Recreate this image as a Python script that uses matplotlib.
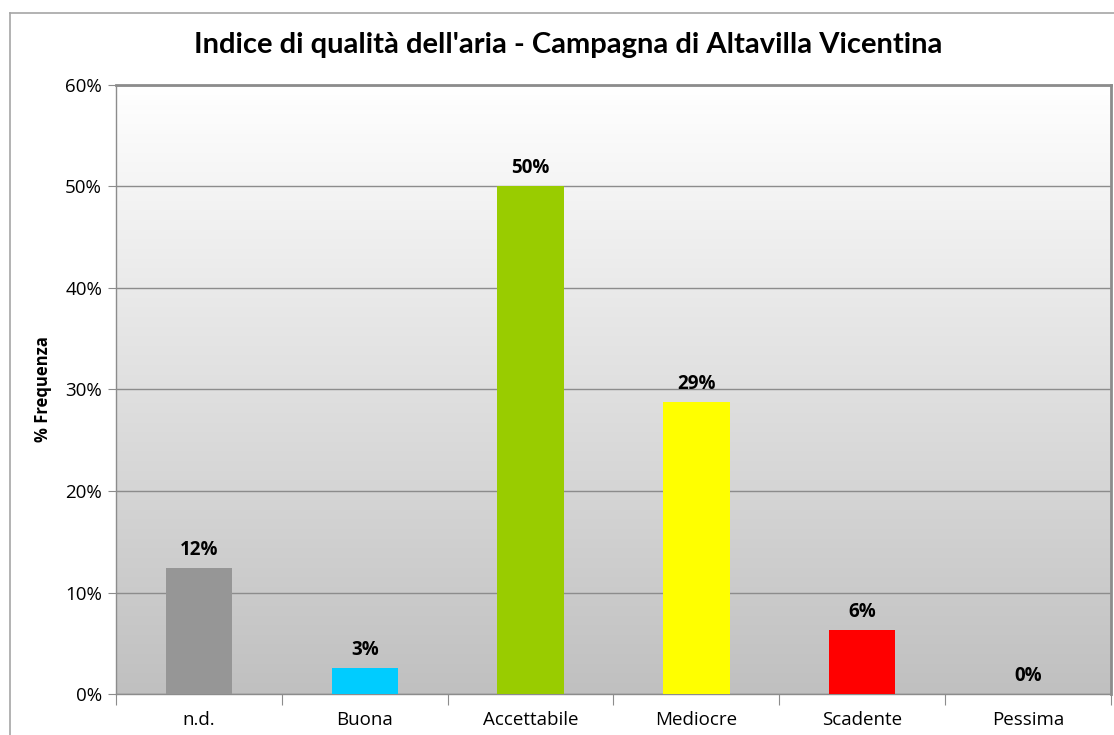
import numpy as np
import matplotlib
matplotlib.use("Agg")
import matplotlib.pyplot as plt
from matplotlib.lines import Line2D
from matplotlib.colors import LinearSegmentedColormap

categories = ["n.d.", "Buona", "Accettabile", "Mediocre", "Scadente", "Pessima"]
values = [12.4, 2.6, 50.0, 28.8, 6.3, 0.0]
colors = ["#969696", "#00ccff", "#99cc00", "#ffff00", "#ff0000", "#7f7f7f"]
yticks = [0, 10, 20, 30, 40, 50, 60]
title = "Indice di qualità dell'aria - Campagna di Altavilla Vicentina"
ylabel = "% Frequenza"

TFONT = ["Lato", "DejaVu Sans"]
FONT = ["Open Sans", "DejaVu Sans"]
plt.rcParams["font.family"] = FONT

W, H = 1114, 735
fig = plt.figure(figsize=(W / 100, H / 100), dpi=100)
fig.patch.set_facecolor("white")

# outer chart border (top and left edges visible)
fig.add_artist(Line2D([10 / W, 10 / W], [0, 1 - 13 / H], transform=fig.transFigure,
                      color="#a6a6a6", lw=1.2))
fig.add_artist(Line2D([10 / W, 1], [1 - 13 / H, 1 - 13 / H], transform=fig.transFigure,
                      color="#a6a6a6", lw=1.2))

left, right, top, bottom = 116, 1111, 85, 694
ax = fig.add_axes([left / W, 1 - bottom / H, (right - left) / W, (bottom - top) / H])

# gradient background
cmap = LinearSegmentedColormap.from_list("bg", ["#c0c0c0", "#ffffff"])
grad = np.linspace(0, 1, 256).reshape(-1, 1)
ax.imshow(grad, extent=[0, 1, 0, 1], transform=ax.transAxes, aspect="auto",
          cmap=cmap, origin="lower", zorder=0)

x = np.arange(len(categories))
ax.bar(x, values, width=0.4, color=colors, zorder=3)

ax.set_xlim(-0.5, len(categories) - 0.5)
ax.set_ylim(0, 60)

ax.set_yticks(yticks)
ax.set_yticklabels([f"{t}%" for t in yticks], fontsize=13.5, color="#000000")
ax.yaxis.grid(True, color="#8c8c8c", lw=1.0, zorder=1)
ax.set_axisbelow(True)

ax.set_xticks(np.arange(len(categories) + 1) - 0.5)
ax.set_xticklabels([])
ax.set_xticks(x, minor=True)
ax.set_xticklabels(categories, minor=True, fontsize=13.5)
ax.tick_params(axis="x", which="major", length=8, color="#8c8c8c", direction="out")
ax.tick_params(axis="x", which="minor", length=0, pad=12)
ax.tick_params(axis="y", length=6, color="#8c8c8c", direction="out", pad=4)

for s in ax.spines.values():
    s.set_color("#8c8c8c")
    s.set_linewidth(1.0)
ax.spines["top"].set_linewidth(2.0)
ax.spines["right"].set_linewidth(2.0)

for xi, v in zip(x, values):
    ax.annotate(f"{v:.0f}%", (xi, v), xytext=(0, 13), textcoords="offset points",
                ha="center", va="center", fontsize=13.5, fontweight="bold", zorder=4)

ax.set_ylabel(ylabel, fontsize=12, fontweight="bold")
ax.yaxis.set_label_coords(-0.064, 0.5)

fig.text(568 / W, 1 - 45 / H, title, ha="center", va="center",
         fontsize=21, fontweight="bold", family=TFONT)

fig.savefig("out.png", dpi=100, facecolor=fig.get_facecolor())
